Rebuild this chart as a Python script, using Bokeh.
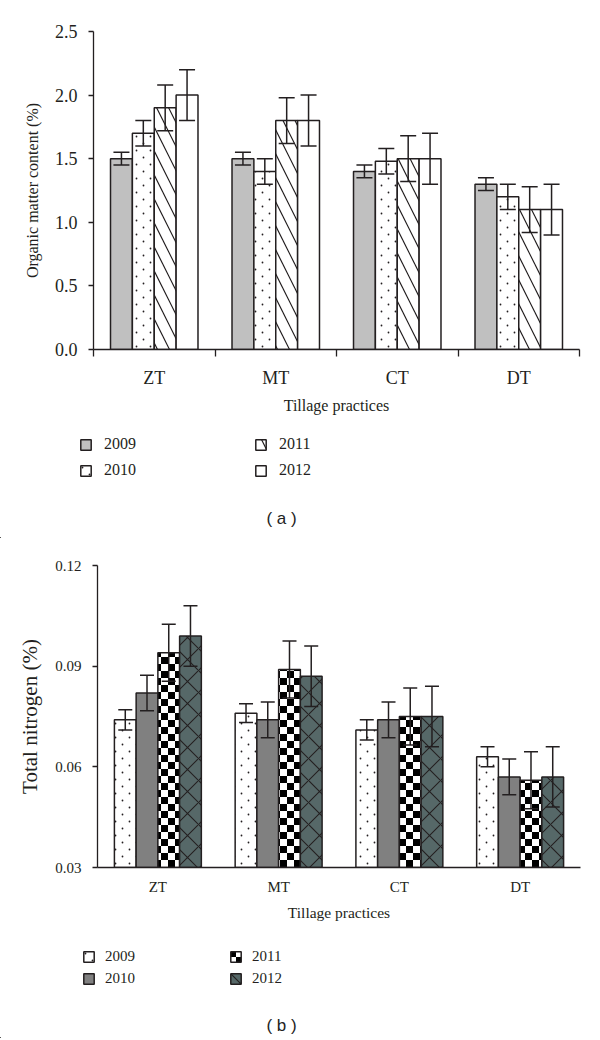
from bokeh.plotting import figure
from bokeh.models import (Range1d, FixedTicker, Whisker, ColumnDataSource, Legend,
                          LegendItem, Label, CanvasTexture, TeeHead, NumeralTickFormatter)
from bokeh.embed import file_html
from bokeh.resources import INLINE
from bokeh.core.properties import value

practices = ["ZT", "MT", "CT", "DT"]
years = ["2009", "2010", "2011", "2012"]

# Panel (a): organic matter content (%)
om_2009 = [1.50, 1.50, 1.40, 1.30]
om_2010 = [1.70, 1.40, 1.48, 1.20]
om_2011 = [1.90, 1.80, 1.50, 1.10]
om_2012 = [2.00, 1.80, 1.50, 1.10]
om_err_2009 = [0.05, 0.05, 0.05, 0.05]
om_err_2010 = [0.10, 0.10, 0.10, 0.10]
om_err_2011 = [0.18, 0.18, 0.18, 0.18]
om_err_2012 = [0.20, 0.20, 0.20, 0.20]
om_ticks = [0.0, 0.5, 1.0, 1.5, 2.0, 2.5]

# Panel (b): total nitrogen (%)
tn_2009 = [0.074, 0.076, 0.071, 0.063]
tn_2010 = [0.082, 0.074, 0.074, 0.057]
tn_2011 = [0.094, 0.089, 0.075, 0.056]
tn_2012 = [0.099, 0.087, 0.075, 0.057]
tn_err_2009 = [0.003, 0.0028, 0.003, 0.003]
tn_err_2010 = [0.0053, 0.0053, 0.0053, 0.0053]
tn_err_2011 = [0.0085, 0.0085, 0.0085, 0.0085]
tn_err_2012 = [0.009, 0.009, 0.009, 0.009]
tn_ticks = [0.03, 0.06, 0.09, 0.12]

INK = "#231f20"
SERIF = "Liberation Serif"
W = 596

# The texture canvas is resized here so that the tile has a known size.
checker = CanvasTexture(code="""
const c = ctx.canvas;
c.width = 14; c.height = 14;
ctx.setTransform(1, 0, 0, 1, 0, 0);
ctx.clearRect(0, 0, 14, 14);
ctx.fillStyle = "#000000";
ctx.fillRect(0, 0, 7, 7);
ctx.fillRect(7, 7, 7, 7);
""")
dots = CanvasTexture(code="""
const c = ctx.canvas;
c.width = 14; c.height = 14;
ctx.setTransform(1, 0, 0, 1, 0, 0);
ctx.clearRect(0, 0, 14, 14);
ctx.fillStyle = "#231f20";
ctx.beginPath(); ctx.arc(3.5, 3.5, 0.9, 0, 2 * Math.PI); ctx.fill();
ctx.beginPath(); ctx.arc(10.5, 10.5, 0.9, 0, 2 * Math.PI); ctx.fill();
""")
EXTRA = {"checker": checker, "dots": dots}

offsets = [-0.27, -0.09, 0.09, 0.27]
BAR_W = 0.18
centers = [i + 0.5 for i in range(len(practices))]


def add_bars(p, series, styles, bottom):
    rs = []
    for j, (vals, st) in enumerate(zip(series, styles)):
        xs = [c + offsets[j] for c in centers]
        src = ColumnDataSource(dict(x=xs, top=vals))
        r = p.vbar(x="x", top="top", bottom=bottom, width=BAR_W, source=src,
                   fill_color=st["fill"], line_color=INK, line_width=1.5,
                   hatch_pattern=value(st["hatch"]) if st["hatch"] else None,
                   hatch_color=st.get("hcolor", INK),
                   hatch_scale=st.get("hscale", 12),
                   hatch_weight=st.get("hweight", 1),
                   hatch_extra=EXTRA)
        rs.append(r)
    return rs


def make_chart(series, errors, styles, ticks, fmt, y_range, height, borders,
               tick_font, title_font, ylabel, ylabel_font, ylabel_standoff,
               xticks_out, xlab_standoff, xtitle_standoff, whisker_size):
    left, right, top, bottom = borders
    p = figure(width=W, height=height, output_backend="svg", toolbar_location=None,
               x_range=Range1d(0, len(practices)), y_range=y_range,
               min_border_left=left, min_border_right=right,
               min_border_top=top, min_border_bottom=bottom)
    p.outline_line_color = None
    p.xgrid.visible = False
    p.ygrid.visible = False

    add_bars(p, series, styles, y_range.start)
    for j, (vals, errs) in enumerate(zip(series, errors)):
        xs = [c + offsets[j] for c in centers]
        src = ColumnDataSource(dict(x=xs,
                                    upper=[v + e for v, e in zip(vals, errs)],
                                    lower=[v - e for v, e in zip(vals, errs)]))
        w = Whisker(source=src, base="x", upper="upper", lower="lower",
                    line_color=INK, line_width=1.5, level="overlay",
                    upper_head=TeeHead(size=whisker_size, line_color=INK, line_width=1.5),
                    lower_head=TeeHead(size=whisker_size, line_color=INK, line_width=1.5))
        p.add_layout(w)

    xa = p.xaxis[0]
    if xticks_out:
        xa.ticker = FixedTicker(ticks=centers, minor_ticks=list(range(len(practices) + 1)))
        xa.minor_tick_in = 0
        xa.minor_tick_out = xticks_out
        xa.minor_tick_line_color = INK
        xa.minor_tick_line_width = 1.3
    else:
        xa.ticker = FixedTicker(ticks=centers, minor_ticks=[])
    xa.major_tick_line_color = None
    xa.major_tick_in = 0
    xa.major_tick_out = 0
    xa.major_label_overrides = {c: n for c, n in zip(centers, practices)}
    xa.major_label_text_font = SERIF
    xa.major_label_text_font_size = tick_font
    xa.major_label_text_color = INK
    xa.major_label_standoff = xlab_standoff
    xa.axis_label = "Tillage practices"
    xa.axis_label_text_font = SERIF
    xa.axis_label_text_font_size = title_font
    xa.axis_label_text_font_style = "normal"
    xa.axis_label_text_color = INK
    xa.axis_label_standoff = xtitle_standoff
    xa.axis_line_color = INK
    xa.axis_line_width = 1.3

    ya = p.yaxis[0]
    ya.ticker = FixedTicker(ticks=ticks, minor_ticks=[])
    ya.formatter = NumeralTickFormatter(format=fmt)
    ya.major_tick_in = 0
    ya.major_tick_out = 5
    ya.major_tick_line_color = INK
    ya.major_tick_line_width = 1.3
    ya.major_label_text_font = SERIF
    ya.major_label_text_font_size = tick_font
    ya.major_label_text_color = INK
    ya.major_label_standoff = 11
    ya.axis_label = ylabel
    ya.axis_label_text_font = SERIF
    ya.axis_label_text_font_size = ylabel_font
    ya.axis_label_text_font_style = "normal"
    ya.axis_label_text_color = INK
    ya.axis_label_standoff = ylabel_standoff
    ya.axis_line_color = INK
    ya.axis_line_width = 1.3
    return p


def make_legend(series, styles, y_range, height, loc, standoff, label_width,
                label_height, spacing, font, panel_label, label_pos):
    # A strip holding the legend and the panel caption; its bars lie outside its view.
    p = figure(width=W, height=height, output_backend="svg", toolbar_location=None,
               x_range=Range1d(len(practices) * 20, len(practices) * 21),
               y_range=Range1d(y_range.end * 10, y_range.end * 11),
               x_axis_location=None, y_axis_location=None,
               min_border_left=0, min_border_right=0, min_border_top=0, min_border_bottom=0)
    p.outline_line_color = None
    p.xgrid.visible = False
    p.ygrid.visible = False
    rs = add_bars(p, series, styles, y_range.start)
    items = [LegendItem(label=y, renderers=[r]) for y, r in zip(years, rs)]
    leg = Legend(items=items, location=loc, orientation="vertical", nrows=2,
                 glyph_width=13, glyph_height=13, label_standoff=standoff,
                 label_width=label_width, label_height=label_height,
                 spacing=spacing, padding=0, margin=0,
                 border_line_color=None, background_fill_alpha=0,
                 label_text_font=SERIF, label_text_font_size=font,
                 label_text_color=INK)
    p.add_layout(leg, "center")
    p.add_layout(Label(x=label_pos[0], y=label_pos[1], x_units="screen",
                       y_units="screen", text=panel_label, text_font="Liberation Sans",
                       text_font_size="17px", text_align="center", text_baseline="middle",
                       text_color="#222222"))
    return p


styles_a = [
    dict(fill="#c0c0c0", hatch=None),
    dict(fill="white", hatch="dots", hscale=14),
    dict(fill="white", hatch="left_diagonal_line", hscale=24, hweight=1.2),
    dict(fill="white", hatch=None),
]
styles_b = [
    dict(fill="white", hatch="dots", hscale=14),
    dict(fill="#808080", hatch=None),
    dict(fill="white", hatch="checker", hscale=14),
    dict(fill="#566868", hatch="diagonal_cross", hscale=22, hweight=1.1),
]

series_a = [om_2009, om_2010, om_2011, om_2012]
errors_a = [om_err_2009, om_err_2010, om_err_2011, om_err_2012]
series_b = [tn_2009, tn_2010, tn_2011, tn_2012]
errors_b = [tn_err_2009, tn_err_2010, tn_err_2011, tn_err_2012]
yr_a = Range1d(0, 2.5)
yr_b = Range1d(0.03, 0.12)

pa = make_chart(series_a, errors_a, styles_a, om_ticks, "0.0", yr_a, 420, (93, W - 579, 31, 71),
                "18px", "16px", "Organic matter content (%)", "16px", 11, 7, 11, 6, 16)
la = make_legend(series_a, styles_a, yr_a, 118, (79, 58), 12, 144, 20, 6, "16px",
                 "( a )", (281, 20))

pb = make_chart(series_b, errors_b, styles_b, tn_ticks, "0.00", yr_b, 386, (97, W - 580, 27, 57),
                "15px", "15.5px", "Total nitrogen (%)", "21px", 10, 0, 11, 6, 14)
lb = make_legend(series_b, styles_b, yr_b, 114, (82, 51), 10, 120, 18, 4, "15px",
                 "( b )", (281, 13))

# Separate roots, stacked by the page itself.
open("out.html", "w").write(file_html([pa, la, pb, lb], INLINE))
